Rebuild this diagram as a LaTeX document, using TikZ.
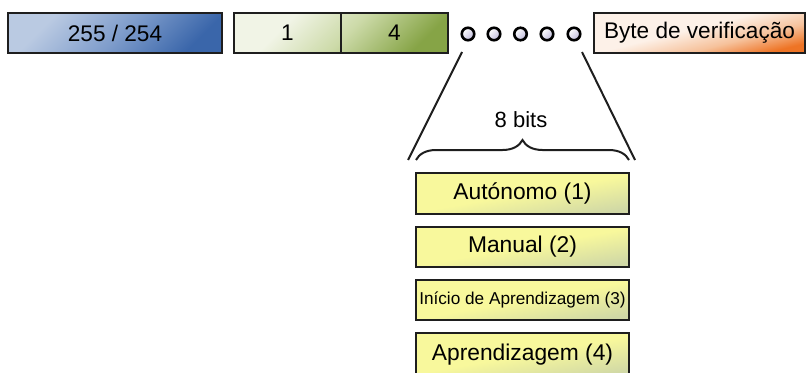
\documentclass[tikz,border=0pt]{standalone}
\usepackage{fontspec}
\setmainfont{Liberation Sans}
\usetikzlibrary{decorations.pathreplacing}
\definecolor{bluelight}{HTML}{BACAE2}
\definecolor{bluemid}{HTML}{7E9CCB}
\definecolor{bluedark}{HTML}{3A66AA}
\definecolor{greenlight}{HTML}{F1F4E6}
\definecolor{greenmid}{HTML}{CCDAA8}
\definecolor{greendark}{HTML}{86A446}
\definecolor{orangelight}{HTML}{FDF1E8}
\definecolor{orangemid}{HTML}{F6C29C}
\definecolor{orangedark}{HTML}{EE7425}
\definecolor{yellowlight}{HTML}{F8F89C}
\definecolor{yellowdark}{HTML}{D0D8A6}
\definecolor{circlefill}{HTML}{C4C0DE}
\definecolor{edge}{HTML}{1E1E1E}
\pgfdeclareverticalshading{blueshade}{100bp}{color(0bp)=(bluedark); color(25bp)=(bluedark); color(48bp)=(bluemid); color(72bp)=(bluelight); color(100bp)=(bluelight)}
\pgfdeclareverticalshading{greenshade}{100bp}{color(0bp)=(greendark); color(25bp)=(greendark); color(48bp)=(greenmid); color(68bp)=(greenlight); color(100bp)=(greenlight)}
\pgfdeclareverticalshading{orangeshade}{100bp}{color(0bp)=(orangedark); color(26bp)=(orangedark); color(39bp)=(orangemid); color(54bp)=(orangelight); color(100bp)=(orangelight)}
\pgfdeclareverticalshading{yellowshade}{100bp}{color(0bp)=(yellowdark); color(25bp)=(yellowdark); color(50bp)=(yellowlight); color(100bp)=(yellowlight)}
\pgfdeclareverticalshading{dotshade}{100bp}{color(0bp)=(circlefill); color(30bp)=(circlefill); color(75bp)=(white); color(100bp)=(white)}
\tikzset{
  boxbase/.style={draw=edge, line width=2pt, inner sep=0pt, outer sep=0pt, rectangle},
  bitdot/.style={circle, draw=black, line width=2.6pt, minimum size=12.5pt, inner sep=0pt,
    shading=dotshade, shading angle=45},
  modebox/.style={boxbase, minimum width=213pt, shading=yellowshade, shading angle=10},
  bigtxt/.style={font=\fontsize{22.6}{26}\selectfont},
  modetxt/.style={font=\fontsize{22.8}{26}\selectfont},
  conn/.style={draw=edge, line width=2pt}
}
\begin{document}
\begin{tikzpicture}[x=1pt,y=-1pt]
\useasboundingbox (0,0) rectangle (808,372);
% top row
\node[boxbase, bigtxt, minimum width=214pt, minimum height=40pt, shading=blueshade, shading angle=45] (a) at (115,33) {255 / 254};
\node[boxbase, minimum width=214pt, minimum height=40pt, shading=greenshade, shading angle=45] (g) at (341,33) {};
\node[boxbase, bigtxt, minimum width=107pt, minimum height=40pt] (b1) at (287.5,33) {1};
\node[boxbase, bigtxt, minimum width=107pt, minimum height=40pt] (b4) at (394.5,33) {4};
\node[bitdot] (c1) at (468,34) {};
\node[bitdot] (c2) at (494,34) {};
\node[bitdot] (c3) at (520.5,34) {};
\node[bitdot] (c4) at (547,34) {};
\node[bitdot] (c5) at (574,34) {};
\node[boxbase, bigtxt, minimum width=211pt, minimum height=40pt, shading=orangeshade, shading angle=14] (bv) at (699.5,33) {Byte de verificação};
% expansion lines
\coordinate (l1) at (462,52);
\coordinate (l2) at (408,160);
\coordinate (r1) at (582,52);
\coordinate (r2) at (635,160);
\draw[conn] (l1) -- (l2);
\draw[conn] (r1) -- (r2);
% brace
\coordinate (bl) at (416,160);
\coordinate (br) at (629,160);
\draw[conn, decorate, decoration={brace, amplitude=20pt}] (bl) -- (br);
\node[font=\fontsize{22}{26}\selectfont] (bits) at (521,120) {8 bits};
% mode boxes
\node[modebox, modetxt, minimum height=41pt] (m1) at (522.5,193.5) {Autónomo (1)};
\node[modebox, modetxt, minimum height=40pt] (m2) at (522.5,247) {Manual (2)};
\node[modebox, font=\fontsize{17.2}{20}\selectfont, minimum height=40pt] (m3) at (522.5,300) {Início de Aprendizagem (3)};
\node[modebox, modetxt, minimum height=44pt] (m4) at (522.5,355) {Aprendizagem (4)};
\end{tikzpicture}
\end{document}
